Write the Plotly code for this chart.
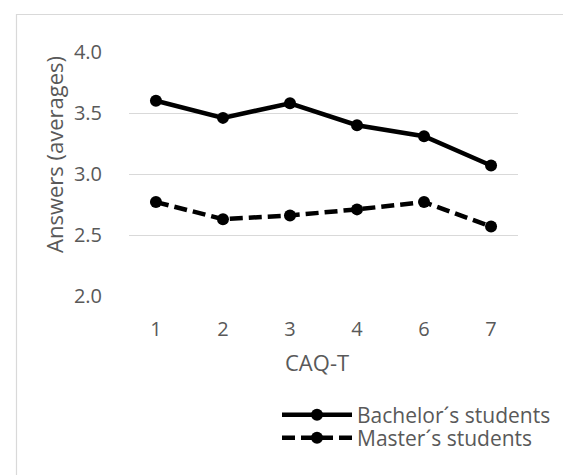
import plotly.graph_objs as go

# CAQ-T items and average answers per group
caq_items = ["1", "2", "3", "4", "6", "7"]
bachelor_avg = [3.60, 3.46, 3.58, 3.40, 3.31, 3.07]
master_avg = [2.77, 2.63, 2.66, 2.71, 2.77, 2.57]
y_ticks = [2.0, 2.5, 3.0, 3.5, 4.0]

FONT = "Open Sans"
GREY = "#595959"
GRID = "#d9d9d9"

W, H = 571, 475
OFF_Y = 8  # the page body margin pushes the figure down by 8px
L, R, T, B = 121, 61, 52 - OFF_Y, 187
pw, ph = W - L - R, H - T - B


def px_to_paper(x, y):
    # window pixels -> paper coordinates
    return (x - L) / pw, (H - B - (y - OFF_Y)) / ph


fig = go.Figure()

fig.add_trace(go.Scatter(
    x=caq_items, y=bachelor_avg, name="Bachelor´s students",
    mode="lines+markers",
    line=dict(color="black", width=4.5),
    marker=dict(color="black", size=12),
    legend="legend",
))
fig.add_trace(go.Scatter(
    x=caq_items, y=master_avg, name="Master´s students",
    mode="lines+markers",
    line=dict(color="black", width=4.5, dash="13px,6px"),
    marker=dict(color="black", size=12),
    legend="legend2",
))

# outer chart border (Excel chart area)
x0, y0 = px_to_paper(8.5, 14.5)
x1, y1 = px_to_paper(W + 20, H + 20)
fig.add_shape(type="rect", xref="paper", yref="paper", x0=x0, y0=y0, x1=x1, y1=y1,
              line=dict(color=GRID, width=1.2), fillcolor="rgba(0,0,0,0)", layer="below")

ax, ay = px_to_paper(46, 155)
fig.add_annotation(text="Answers (averages)", xref="paper", yref="paper", x=ax, y=ay,
                   xanchor="center", yanchor="middle",
                   textangle=-90, showarrow=False, font=dict(size=22, color=GREY, family=FONT))
tx, ty = px_to_paper(309, 362)
fig.add_annotation(text="CAQ-T", xref="paper", yref="paper", x=tx, y=ty,
                   xanchor="center", yanchor="middle",
                   showarrow=False, font=dict(size=22, color=GREY, family=FONT))

lx1, ly1 = px_to_paper(269, 415)
lx2, ly2 = px_to_paper(269, 438)
leg = dict(xanchor="left", yanchor="middle", bgcolor="rgba(0,0,0,0)",
           font=dict(size=21, color=GREY, family=FONT), itemwidth=70)

fig.update_layout(
    width=W, height=H,
    margin=dict(l=L, r=R, t=T, b=B, autoexpand=False),
    plot_bgcolor="white", paper_bgcolor="white",
    font=dict(family=FONT, color=GREY, size=20),
    showlegend=True,
    legend=dict(leg, x=lx1, y=ly1),
    legend2=dict(leg, x=lx2, y=ly2),
    xaxis=dict(type="category", showgrid=False, showline=False, zeroline=False,
               ticks="", ticklabelstandoff=19, tickfont=dict(size=20, color=GREY)),
    yaxis=dict(range=[2, 4], tickvals=y_ticks, tickformat=".1f", showgrid=True,
               gridcolor=GRID, gridwidth=1.2, zeroline=False, showline=False,
               ticks="outside", ticklen=22, tickcolor="rgba(0,0,0,0)",
               tickfont=dict(size=20, color=GREY)),
)

fig.write_html("out.html")
